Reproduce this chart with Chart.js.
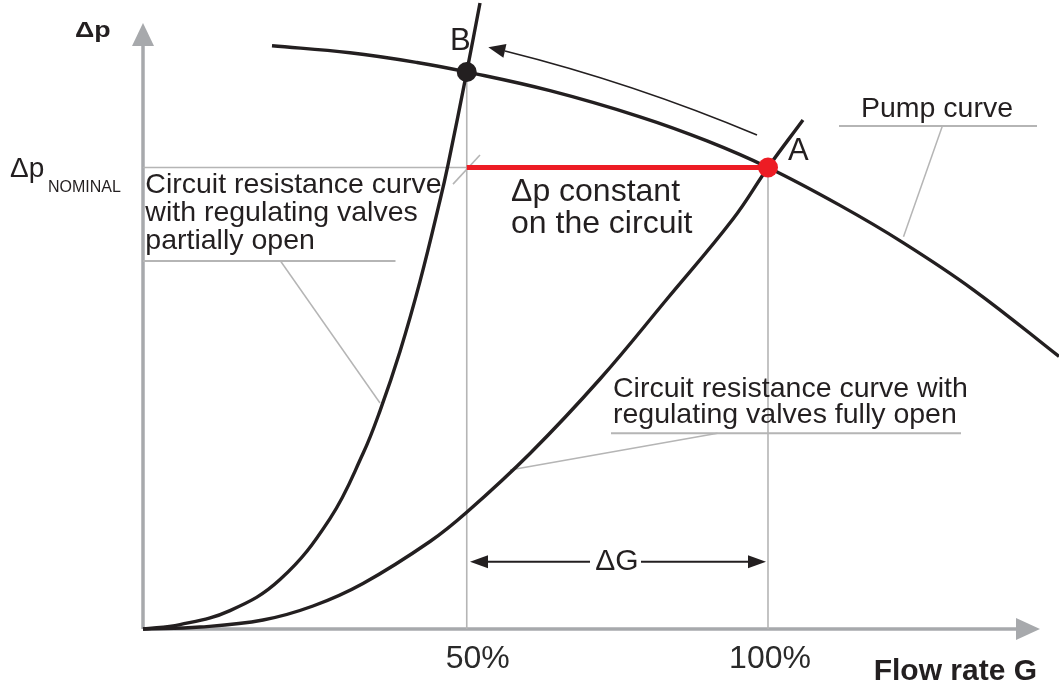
<!DOCTYPE html>
<html>
<head>
<meta charset="utf-8">
<script src="https://cdn.jsdelivr.net/npm/chart.js@4/dist/chart.umd.min.js"></script>
<style>
  html, body { margin: 0; padding: 0; background: #ffffff; }
  #wrap { width: 1059px; height: 689px; }
</style>
</head>
<body>
<div id="wrap"><canvas id="c" width="1059" height="689"></canvas></div>
<script>
// ---- Data (x: flow rate G, % of nominal; y: Δp, % of nominal) ----
const xTickValues = [51.8, 100];
const xTickLabels = ['50%', '100%'];

const pumpX = [20.64, 33.12, 43.84, 51.8, 65.12, 79.52, 90.24, 100, 111.52, 121.6, 132.8, 146.56, 149.12];
const pumpY = [126.37, 124.85, 122.75, 120.7, 116.64, 110.98, 105.76, 100, 91.79, 83.73, 73.56, 59.05, 56.21];

const partialX = [0, 5.92, 13.92, 21.92, 29.92, 35.2, 37.92, 41.12, 44.32, 47.52, 48.8, 51.8, 53.92];
const partialY = [0, 0.95, 3.99, 10.7, 23.92, 38.01, 47.28, 60.15, 75.32, 92.87, 100.58, 120.7, 135.65];

const fullX = [0, 9.12, 19.2, 27.2, 35.2, 45.92, 51.84, 61.92, 73.12, 83.84, 94.4, 100, 105.6];
const fullY = [0, 0.43, 1.95, 4.98, 9.86, 18.96, 25.35, 38.03, 54.17, 71.51, 88.84, 100, 110.29];

const pointA = { x: 100, y: 100 };
const pointB = { x: 51.8, y: 120.7 };
const nominalDp = 100;

const toPts = (xs, ys) => xs.map((x, i) => ({ x, y: ys[i] }));

const INK = '#231f20';
const GREY = '#b5b5b5';
const AXIS = '#a7a9ac';
const FONT = '"Liberation Sans", Arial, Helvetica, sans-serif';

const annot = {
  id: 'annot',
  beforeDatasetsDraw(chart) {
    const ctx = chart.ctx, sx = chart.scales.x, sy = chart.scales.y;
    const X = v => sx.getPixelForValue(v), Y = v => sy.getPixelForValue(v);
    const seg = (a, b, c, d) => { ctx.beginPath(); ctx.moveTo(X(a), Y(b)); ctx.lineTo(X(c), Y(d)); ctx.stroke(); };
    ctx.save();
    // axes with arrow heads
    ctx.strokeStyle = AXIS; ctx.fillStyle = AXIS; ctx.lineWidth = 3.5;
    seg(0, 0, 140, 0);
    seg(0, 0, 0, 127);
    ctx.beginPath(); ctx.moveTo(X(143.52), Y(0)); ctx.lineTo(X(143.52) - 24, Y(0) - 11); ctx.lineTo(X(143.52) - 24, Y(0) + 11); ctx.closePath(); ctx.fill();
    ctx.beginPath(); ctx.moveTo(X(0), Y(131.3)); ctx.lineTo(X(0) - 11, Y(131.3) + 23); ctx.lineTo(X(0) + 11, Y(131.3) + 23); ctx.closePath(); ctx.fill();

    // grey reference lines
    ctx.strokeStyle = GREY; ctx.lineWidth = 1.6;
    seg(pointB.x, 0, pointB.x, pointB.y);
    seg(pointA.x, 0, pointA.x, pointA.y);
    seg(0, nominalDp, pointB.x, nominalDp);
    seg(49.6, 96.4, 53.92, 102.71);

    // label underlines and leaders
    ctx.lineWidth = 2;
    seg(111.36, 108.99, 143.04, 108.99);
    seg(0, 79.74, 40.4, 79.74);
    seg(74.88, 42.4, 130.88, 42.4);
    ctx.lineWidth = 1.5;
    seg(127.9, 108.99, 121.68, 85.01);
    seg(22, 79.74, 37.92, 48.97);
    seg(91.94, 42.4, 58.72, 34.45);
    ctx.restore();
  },
  afterDatasetsDraw(chart) {
    const ctx = chart.ctx, sx = chart.scales.x, sy = chart.scales.y;
    const X = v => sx.getPixelForValue(v), Y = v => sy.getPixelForValue(v);
    ctx.save();
    ctx.fillStyle = INK; ctx.strokeStyle = INK;
    ctx.textBaseline = 'alphabetic';
    const txt = (s, x, y, size, weight, align, dx) => {
      ctx.font = (weight || 'normal') + ' ' + size + 'px ' + FONT;
      ctx.textAlign = align || 'left';
      ctx.fillText(s, X(x) + (dx || 0), Y(y));
    };
    // axis titles
    ctx.save();
    ctx.translate(X(-10.9), Y(128.2));
    ctx.scale(1.22, 1);
    ctx.font = 'bold 22px ' + FONT; ctx.textAlign = 'left';
    ctx.fillText('Δp', 0, 0);
    ctx.restore();
    txt('Flow rate G', 143.04, -11.05, 30, 'bold', 'right');
    txt('Δp', -21.28, 98.0, 28);
    txt('NOMINAL', -15.2, 94.76, 16);
    // tick labels
    ctx.fillStyle = '#2a2a2a';
    xTickValues.forEach((v, i) => txt(xTickLabels[i], v, -8.45, 32, 'normal', 'center', i === 0 ? 11 : 2));
    ctx.fillStyle = INK;
    // point letters
    txt('A', 103.2, 101.63, 31);
    txt('B', 49.12, 125.46, 31);
    // labels
    txt('Pump curve', 114.88, 111.03, 28.5);
    txt('Circuit resistance curve', 0.37, 94.37, 28.5);
    txt('with regulating valves', 0.37, 88.3, 28.5);
    txt('partially open', 0.37, 82.23, 28.5);
    txt('Circuit resistance curve with', 75.2, 50.34, 28.5);
    txt('regulating valves fully open', 75.2, 44.57, 28.5);
    txt('Δp constant', 58.88, 92.81, 32);
    txt('on the circuit', 58.88, 85.87, 32);

    // ΔG dimension arrow
    const gy = Y(14.58), lt = X(52.32), rt = X(99.68);
    ctx.lineWidth = 2;
    ctx.beginPath(); ctx.moveTo(lt + 10, gy); ctx.lineTo(X(71.52), gy); ctx.stroke();
    ctx.beginPath(); ctx.moveTo(X(79.68), gy); ctx.lineTo(rt - 10, gy); ctx.stroke();
    ctx.beginPath(); ctx.moveTo(lt, gy); ctx.lineTo(lt + 18, gy - 6.5); ctx.lineTo(lt + 18, gy + 6.5); ctx.closePath(); ctx.fill();
    ctx.beginPath(); ctx.moveTo(rt, gy); ctx.lineTo(rt - 18, gy - 6.5); ctx.lineTo(rt - 18, gy + 6.5); ctx.closePath(); ctx.fill();
    txt('ΔG', 75.84, 12.78, 30, 'normal', 'center');

    // curved arrow from A towards B along the pump curve
    const p0 = [X(98.24), Y(107.04)], c1 = [X(78.48), Y(118.29)], pb = [X(57.92), Y(125.25)], tip = [X(55.25), Y(126.05)];
    ctx.lineWidth = 1.6;
    ctx.beginPath(); ctx.moveTo(p0[0], p0[1]); ctx.quadraticCurveTo(c1[0], c1[1], pb[0], pb[1]); ctx.stroke();
    const ang = Math.atan2(tip[1] - pb[1], tip[0] - pb[0]);
    const L = 17, W = 7;
    const bx = tip[0] - L * Math.cos(ang), by = tip[1] - L * Math.sin(ang);
    ctx.beginPath();
    ctx.moveTo(tip[0], tip[1]);
    ctx.lineTo(bx + W * Math.sin(ang), by - W * Math.cos(ang));
    ctx.lineTo(bx - W * Math.sin(ang), by + W * Math.cos(ang));
    ctx.closePath(); ctx.fill();
    ctx.restore();
  }
};

const curve = (label, xs, ys) => ({
  label, data: toPts(xs, ys), showLine: true, borderColor: INK, borderWidth: 3.4,
  pointRadius: 0, tension: 0.4, order: 3
});

new Chart(document.getElementById('c'), {
  type: 'scatter',
  data: {
    datasets: [
      curve('Pump curve', pumpX, pumpY),
      curve('Partially open', partialX, partialY),
      curve('Fully open', fullX, fullY),
      { label: 'Δp constant', data: [{ x: pointB.x, y: nominalDp }, { x: pointA.x, y: nominalDp }], showLine: true, borderColor: '#ed1c24', borderWidth: 5, pointRadius: 0, order: 2 },
      { label: 'A', data: [pointA], pointRadius: 10, pointBackgroundColor: '#ed1c24', pointBorderWidth: 0, order: 0 },
      { label: 'B', data: [pointB], pointRadius: 10, pointBackgroundColor: INK, pointBorderWidth: 0, order: 0 }
    ]
  },
  options: {
    responsive: false,
    animation: false,
    devicePixelRatio: 1,
    layout: { padding: 0, autoPadding: false },
    plugins: { legend: { display: false }, tooltip: { enabled: false } },
    scales: {
      x: { type: 'linear', display: false, min: -22.88, max: 146.56 },
      y: { type: 'linear', display: false, min: -13.0, max: 136.29 }
    }
  },
  plugins: [annot]
});
</script>
</body>
</html>
